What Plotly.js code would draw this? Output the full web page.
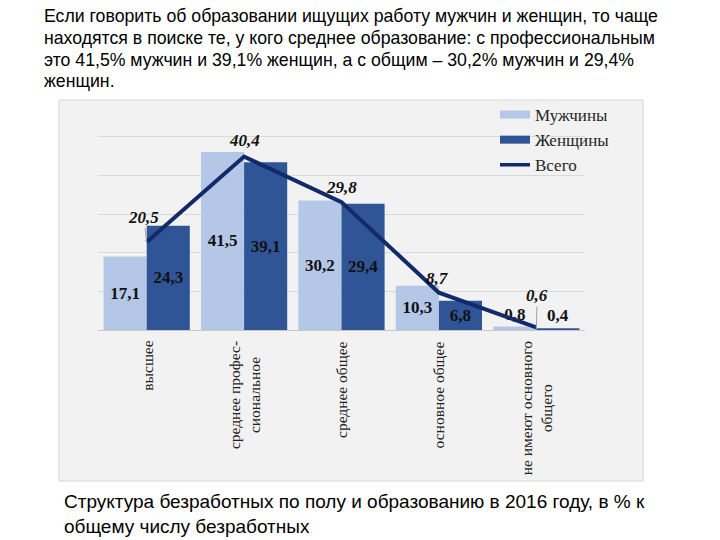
<!DOCTYPE html>
<html>
<head>
<meta charset="utf-8">
<script src="https://cdn.plot.ly/plotly-3.0.1.min.js"></script>
<style>html,body{margin:0;padding:0;background:#fff}#chart{width:720px;height:540px}</style>
</head>
<body>
<div id="chart"></div>
<script>
// ---- data ----
var categories = ['высшее', 'среднее профес-<br>сиональное', 'среднее общее', 'основное общее', 'не имеют основного<br>общего'];
var menValues = [17.1, 41.5, 30.2, 10.3, 0.8];
var womenValues = [24.3, 39.1, 29.4, 6.8, 0.4];
var totalValues = [20.5, 40.4, 29.8, 8.7, 0.6];
var seriesNames = ['Мужчины', 'Женщины', 'Всего'];
var introLines = [
  'Если говорить об образовании ищущих работу мужчин и женщин, то чаще',
  'находятся в поиске те, у кого среднее образование: с профессиональным',
  'это 41,5% мужчин и 39,1% женщин, а с общим – 30,2% мужчин и 29,4%',
  'женщин.'
];
var captionLines = [
  'Структура безработных по полу и образованию в 2016 году, в % к',
  'общему числу безработных'
];

// ---- layout geometry ----
var W = 720, H = 540;
var M = {l: 98, r: 135, t: 124, b: 210};
var PW = W - M.l - M.r, PH = H - M.t - M.b;
function px(x) { return (x - M.l) / PW; }
function py(y) { return (H - M.b - y) / PH; }

var colMen = '#b4c7e7', colWomen = '#2f5597', colTotal = '#12296a';
var serif = 'Liberation Serif, Times New Roman, serif';
var sans = 'Liberation Sans, Arial, sans-serif';

var barCommon = {
  type: 'bar', x: categories, texttemplate: '%{y:.1f}', textposition: 'auto',
  insidetextanchor: 'middle', textangle: 0, constraintext: 'none',
  insidetextfont: {family: serif, size: 17, color: '#111', weight: 'bold'},
  outsidetextfont: {family: serif, size: 17, color: '#111', weight: 'bold'},
  showlegend: false, hoverinfo: 'skip', cliponaxis: false
};
var traces = [
  Object.assign({}, barCommon, {name: seriesNames[0], y: menValues, marker: {color: colMen}}),
  Object.assign({}, barCommon, {name: seriesNames[1], y: womenValues, marker: {color: colWomen}}),
  {type: 'scatter', mode: 'lines', x: categories, y: totalValues, name: seriesNames[2],
   line: {color: colTotal, width: 4}, showlegend: false, hoverinfo: 'skip'},
  // legend entries
  {type: 'scatter', mode: 'lines', x: [categories[0]], y: [null], name: seriesNames[0], line: {color: colMen, width: 8}},
  {type: 'scatter', mode: 'lines', x: [categories[0]], y: [null], name: seriesNames[1], line: {color: colWomen, width: 8}},
  {type: 'scatter', mode: 'lines', x: [categories[0]], y: [null], name: seriesNames[2], line: {color: colTotal, width: 3.5}}
];

var annotations = [];
// category labels
categories.forEach(function (c) {
  annotations.push({xref: 'x', yref: 'paper', x: c, y: py(339), text: c, showarrow: false,
    textangle: -90, xanchor: 'center', yanchor: 'top', align: 'center',
    font: {family: serif, size: 15.5, color: '#222'}});
});
// total labels
var offs = [[-3, -25, true], [0, -16, false], [0, -15, false], [-1, -14, false], [1, -32, true]];
totalValues.forEach(function (v, i) {
  annotations.push({xref: 'x', yref: 'y', x: categories[i], y: v,
    text: v.toFixed(1).replace('.', ','), showarrow: true, arrowhead: 0, standoff: 0,
    arrowwidth: 1, arrowcolor: offs[i][2] ? '#a0a0a0' : 'rgba(0,0,0,0)',
    ax: offs[i][0], ay: offs[i][1],
    font: {family: serif, size: 17, color: '#111', weight: 'bold', style: 'italic'}});
});
// intro text
var introY = [16.5, 38, 59.5, 81];
introLines.forEach(function (t, i) {
  annotations.push({xref: 'paper', yref: 'paper', x: px(42), y: py(introY[i]), text: t,
    showarrow: false, xanchor: 'left', yanchor: 'middle', align: 'left',
    font: {family: sans, size: 17.7, color: '#000'}});
});
// caption
annotations.push({xref: 'paper', yref: 'paper', x: px(62), y: py(514), text: captionLines.join('<br>'),
  showarrow: false, xanchor: 'left', yanchor: 'middle', align: 'left',
  font: {family: sans, size: 19, color: '#000'}});

var layout = {
  width: W, height: H, margin: M,
  paper_bgcolor: '#ffffff', plot_bgcolor: 'rgba(0,0,0,0)',
  separators: ', ',
  barmode: 'group', bargap: 0.115, bargroupgap: 0,
  showlegend: true,
  legend: {x: px(495), y: py(97), xanchor: 'left', yanchor: 'top', bgcolor: 'rgba(0,0,0,0)',
    font: {family: serif, size: 17, color: '#262626'}, traceorder: 'normal'},
  xaxis: {type: 'category', range: [-0.5, 4.5], showticklabels: false, ticks: '',
    showgrid: false, showline: true, linecolor: '#c8c8c8', linewidth: 1, zeroline: false, fixedrange: true},
  yaxis: {range: [0, 48], dtick: 9, tick0: 0, showticklabels: false, ticks: '',
    showgrid: true, gridcolor: '#d9d9d9', gridwidth: 1, zeroline: false, showline: false, fixedrange: true},
  shapes: [{type: 'rect', xref: 'paper', yref: 'paper', x0: px(59), x1: px(643), y0: py(481), y1: py(100),
    fillcolor: '#f2f2f2', line: {color: '#d6d6d6', width: 1}, layer: 'below'}],
  annotations: annotations
};

Plotly.newPlot('chart', traces, layout, {displayModeBar: false, staticPlot: true});
</script>
</body>
</html>
